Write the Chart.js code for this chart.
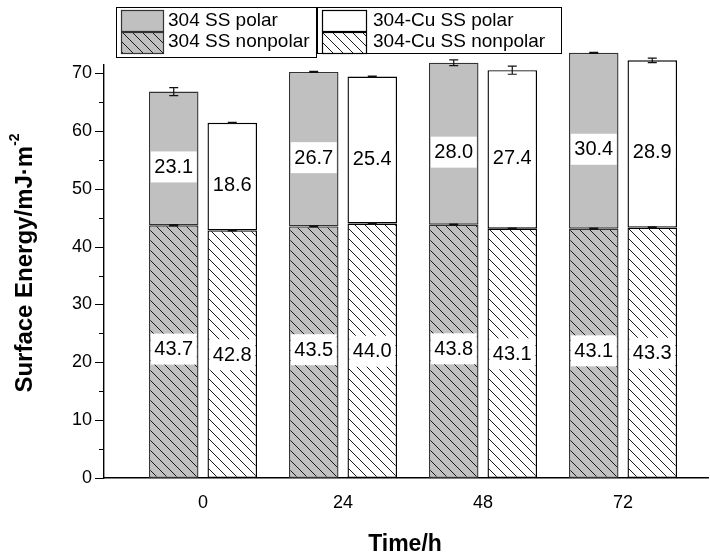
<!DOCTYPE html>
<html>
<head>
<meta charset="utf-8">
<script src="https://cdn.jsdelivr.net/npm/chart.js@4.4.0/dist/chart.umd.min.js"></script>
<style>
  html, body { margin:0; background:#fff; }
  #wrap { width:710px; height:560px; }
</style>
</head>
<body>
<div id="wrap"><canvas id="c" width="710" height="560"></canvas></div>
<script>
// data
const hours = [0, 24, 48, 72];
const ssNonpolar = [43.7, 43.5, 43.8, 43.1];
const ssPolar    = [23.1, 26.7, 28.0, 30.4];
const cuNonpolar = [42.8, 44.0, 43.1, 43.3];
const cuPolar    = [18.6, 25.4, 27.4, 28.9];
const ssNonpolarErr = [0.1, 0.1, 0.1, 0.1];
const ssPolarErr    = [0.7, 0.1, 0.5, 0.1];
const cuNonpolarErr = [0.1, 0.1, 0.1, 0.1];
const cuPolarErr    = [0.1, 0.1, 0.7, 0.4];
const yTicks = [0, 5, 10, 15, 20, 25, 30, 35, 40, 45, 50, 55, 60, 65, 70];

const FONT = "'Liberation Sans', Arial, sans-serif";
const GREY = '#c0c0c0';

const hatch = (bg) => {
  const p = document.createElement('canvas'); p.width = p.height = 10;
  const g = p.getContext('2d');
  g.fillStyle = bg; g.fillRect(0, 0, 10, 10);
  g.strokeStyle = '#1a1a1a'; g.lineWidth = 1;
  g.beginPath();
  g.moveTo(-1, -1); g.lineTo(11, 11);
  g.moveTo(-1, 9);  g.lineTo(1, 11);
  g.moveTo(9, -1);  g.lineTo(11, 1);
  g.stroke();
  return g.createPattern(p, 'repeat');
};
const greyHatch = hatch(GREY), whiteHatch = hatch('#fff');

const pts = (vals) => vals.map((v, i) => ({ x: hours[i], y: v }));

// lblShift: the figure puts polar labels a little under the segment middle
const bar = (label, vals, err, stack, bg, border, lblShift) => ({
  label, data: pts(vals), err, stack, lblShift, backgroundColor: bg, borderColor: border, clip: false,
  borderWidth: 1.4, borderSkipped: false, categoryPercentage: 0.836, barPercentage: 0.846
});

// error bars + value labels on each segment
const marks = {
  id: 'marks',
  afterDatasetsDraw(chart) {
    const { ctx, scales: { y } } = chart;
    const unit = Math.abs(y.getPixelForValue(1) - y.getPixelForValue(0));
    ctx.save();
    chart.data.datasets.forEach((ds, di) => {
      chart.getDatasetMeta(di).data.forEach((el, i) => {
        const e = ds.err[i] * unit;
        ctx.strokeStyle = '#111'; ctx.lineWidth = 1.2;
        ctx.beginPath();
        ctx.moveTo(el.x, el.y - e); ctx.lineTo(el.x, el.y + e);
        ctx.moveTo(el.x - 4.5, el.y - e); ctx.lineTo(el.x + 4.5, el.y - e);
        ctx.moveTo(el.x - 4.5, el.y + e); ctx.lineTo(el.x + 4.5, el.y + e);
        ctx.stroke();
      });
    });
    ctx.font = '20px ' + FONT;
    ctx.textAlign = 'center'; ctx.textBaseline = 'middle';
    chart.data.datasets.forEach((ds, di) => {
      chart.getDatasetMeta(di).data.forEach((el, i) => {
        const txt = ds.data[i].y.toFixed(1);
        const cy = (el.y + el.base) / 2 + ds.lblShift;
        const w = ctx.measureText(txt).width + 7;
        ctx.fillStyle = '#fff';
        ctx.fillRect(el.x - w / 2, cy - 15, w, 31);
        ctx.fillStyle = '#000';
        ctx.fillText(txt, el.x, cy + 1);
      });
    });
    ctx.restore();
  }
};

// axis ticks, titles and the boxed legend
const frame = {
  id: 'frame',
  afterDraw(chart) {
    const { ctx, chartArea: a, scales: { y } } = chart;
    ctx.save();
    ctx.strokeStyle = '#000'; ctx.lineWidth = 1.2;
    ctx.beginPath();
    yTicks.forEach(v => {
      const py = Math.round(y.getPixelForValue(v)) + 0.5;
      ctx.moveTo(a.left, py); ctx.lineTo(a.left - (v % 10 === 0 ? 9 : 5), py);
    });
    ctx.stroke();

    ctx.fillStyle = '#000';
    ctx.font = 'bold 23px ' + FONT;
    ctx.textAlign = 'center'; ctx.textBaseline = 'middle';
    ctx.fillText('Time/h', 405, 545);

    // y title with superscript
    const main = 'Surface Energy/mJ\u00b7m', sup = '-2';
    ctx.font = 'bold 24px ' + FONT;
    const wMain = ctx.measureText(main).width;
    ctx.font = 'bold 14px ' + FONT;
    const wSup = ctx.measureText(sup).width;
    ctx.translate(25, 263); ctx.rotate(-Math.PI / 2);
    const x0 = -(wMain + wSup) / 2;
    ctx.textAlign = 'left';
    ctx.font = 'bold 24px ' + FONT;
    ctx.fillText(main, x0, 0);
    ctx.font = 'bold 14px ' + FONT;
    ctx.fillText(sup, x0 + wMain, -10);
    ctx.setTransform(1, 0, 0, 1, 0, 0);

    // legend
    const items = [
      [121, 10, 42, GREY, '#333', '304 SS polar', 168, 21],
      [121, 32, 42, greyHatch, '#333', '304 SS nonpolar', 168, 42],
      [322, 10, 44, '#fff', '#000', '304-Cu SS polar', 373, 21],
      [322, 32, 44, whiteHatch, '#000', '304-Cu SS nonpolar', 373, 42]
    ];
    ctx.lineWidth = 1;
    ctx.strokeStyle = '#000';
    ctx.strokeRect(116.5, 7.5, 200, 50);
    ctx.strokeRect(317.5, 7.5, 244, 46);
    ctx.font = '19px ' + FONT;
    ctx.textAlign = 'left'; ctx.textBaseline = 'middle';
    items.forEach(([sx, sy, sw, fill, stroke, txt, tx, ty]) => {
      ctx.fillStyle = fill; ctx.fillRect(sx, sy, sw, 21);
      ctx.strokeStyle = stroke; ctx.lineWidth = 1.2; ctx.strokeRect(sx + 0.5, sy + 0.5, sw, 21);
      ctx.fillStyle = '#000'; ctx.fillText(txt, tx, ty);
    });
    ctx.restore();
  }
};

new Chart(document.getElementById('c'), {
  type: 'bar',
  data: {
    datasets: [
      bar('304 SS nonpolar', ssNonpolar, ssNonpolarErr, 'ss', greyHatch, '#333', -3),
      bar('304 SS polar', ssPolar, ssPolarErr, 'ss', GREY, '#333', 8),
      bar('304-Cu SS nonpolar', cuNonpolar, cuNonpolarErr, 'cu', whiteHatch, '#000', 0),
      bar('304-Cu SS polar', cuPolar, cuPolarErr, 'cu', '#fff', '#000', 8)
    ]
  },
  options: {
    responsive: false, animation: false,
    layout: { padding: { left: 0, right: 2, top: 65, bottom: 0 } },
    plugins: { legend: { display: false }, tooltip: { enabled: false } },
    scales: {
      x: {
        type: 'linear', min: -16.97, max: 86.57, offset: false,
        afterBuildTicks: s => { s.ticks = hours.map(v => ({ value: v })); },
        afterFit: s => { s.height = 82; },
        grid: { display: false, offset: false },
        border: { color: '#000', width: 1.4 },
        ticks: { color: '#000', padding: 6, font: { family: FONT, size: 18 }, callback: v => v }
      },
      y: {
        stacked: true, min: 0, max: 71.4,
        afterBuildTicks: s => { s.ticks = yTicks.map(v => ({ value: v })); },
        afterFit: s => { s.width = 104; },
        grid: { display: false, drawTicks: false },
        border: { color: '#000', width: 1.4 },
        ticks: { color: '#000', padding: 12, font: { family: FONT, size: 18 },
          callback: v => (v % 10 === 0 ? v : '') }
      }
    }
  },
  plugins: [marks, frame]
});
</script>
</body>
</html>
